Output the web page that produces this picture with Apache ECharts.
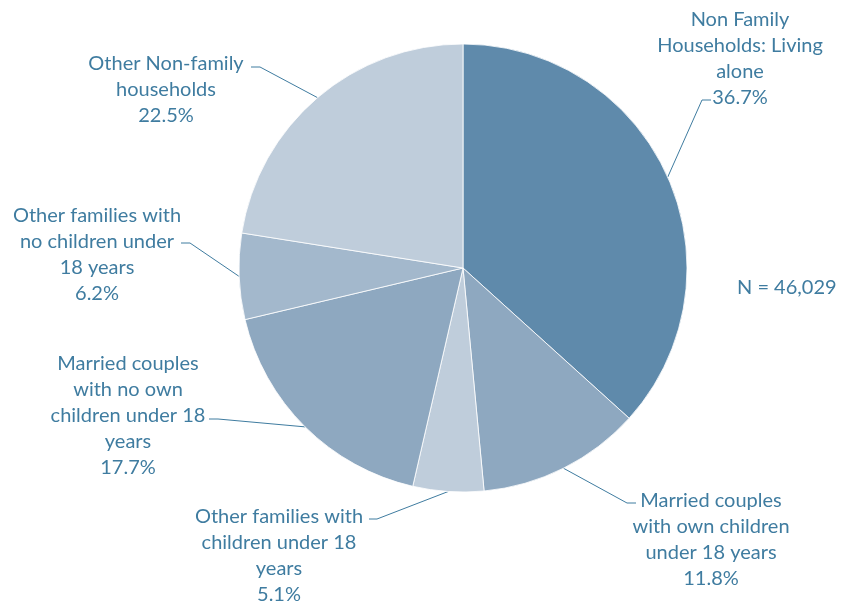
<!DOCTYPE html>
<html>
<head>
<meta charset="utf-8">
<script src="https://cdn.jsdelivr.net/npm/echarts@6/dist/echarts.min.js"></script>
<style>
  html, body { margin: 0; padding: 0; background: #ffffff; }
  #chart { width: 846px; height: 607px; }
</style>
</head>
<body>
<div id="chart"></div>
<script>
// ข้อมูลของกราฟ
var categories = [
    'Non Family\nHouseholds: Living\nalone',
    'Married couples\nwith own children\nunder 18 years',
    'Other families with\nchildren under 18\nyears',
    'Married couples\nwith no own\nchildren under 18\nyears',
    'Other families with\nno children under\n18 years',
    'Other Non-family\nhouseholds'
];
var shares = [36.7, 11.8, 5.1, 17.7, 6.2, 22.5];
var totalText = 'N = 46,029';

// สีของแต่ละชิ้น
var sliceColors = ['#5f8aab', '#8ea8c0', '#bfcddb', '#8ea8c0', '#a3b8cc', '#bfcddb'];
var textColor = '#3f7ca0';

// ตำแหน่งป้าย: [กลางข้อความ x, ขอบบน y, จุดหักเส้น, จุดปลายเส้น]
var labelSpots = [
    { x: 740, y: 7,   elbow: [702, 100], end: [711, 100] },
    { x: 711, y: 488, elbow: [627, 503], end: [636, 503] },
    { x: 279, y: 504, elbow: [377, 519], end: [369, 519] },
    { x: 128, y: 351, elbow: [218, 419], end: [209, 419] },
    { x: 97,  y: 203, elbow: [190, 243], end: [181, 243] },
    { x: 166, y: 51,  elbow: [260, 67],  end: [251, 67] }
];

var center = [463, 268];
var radius = 224;

var dom = document.getElementById('chart');
var myChart = echarts.init(dom, null, { renderer: 'canvas' });

var pieData = categories.map(function (name, i) {
    return {
        name: name,
        value: shares[i],
        itemStyle: { color: sliceColors[i] }
    };
});

var option = {
    backgroundColor: '#ffffff',
    animation: false,
    graphic: [
        {
            type: 'text',
            left: 737,
            top: 278,
            style: {
                text: totalText,
                fill: textColor,
                font: '20px Lato, sans-serif'
            }
        }
    ],
    series: [
        {
            type: 'pie',
            center: center,
            radius: radius,
            startAngle: 90,
            clockwise: true,
            avoidLabelOverlap: false,
            itemStyle: {
                borderColor: '#ffffff',
                borderWidth: 0.8
            },
            label: {
                show: true,
                position: 'outside',
                formatter: '{b}\n{c}%',
                color: textColor,
                fontFamily: 'Lato, sans-serif',
                fontSize: 20,
                lineHeight: 26,
                align: 'center'
            },
            labelLine: {
                show: true,
                length: 20,
                length2: 8,
                lineStyle: { color: textColor, width: 1 }
            },
            labelLayout: function (params) {
                var spot = labelSpots[params.dataIndex];
                var start = params.labelLinePoints ? params.labelLinePoints[0] : null;
                if (!start) {
                    // คำนวณจุดบนขอบวงกลมจากมุมกลางของชิ้น
                    var before = 0, total = 0;
                    shares.forEach(function (v, k) { total += v; if (k < params.dataIndex) before += v; });
                    var mid = (before + shares[params.dataIndex] / 2) / total * Math.PI * 2;
                    start = [center[0] + radius * Math.sin(mid), center[1] - radius * Math.cos(mid)];
                }
                return {
                    x: spot.x,
                    y: spot.y,
                    align: 'center',
                    verticalAlign: 'top',
                    labelLinePoints: [start, spot.elbow, spot.end]
                };
            },
            emphasis: { disabled: true },
            data: pieData
        }
    ]
};

myChart.setOption(option);
</script>
</body>
</html>
